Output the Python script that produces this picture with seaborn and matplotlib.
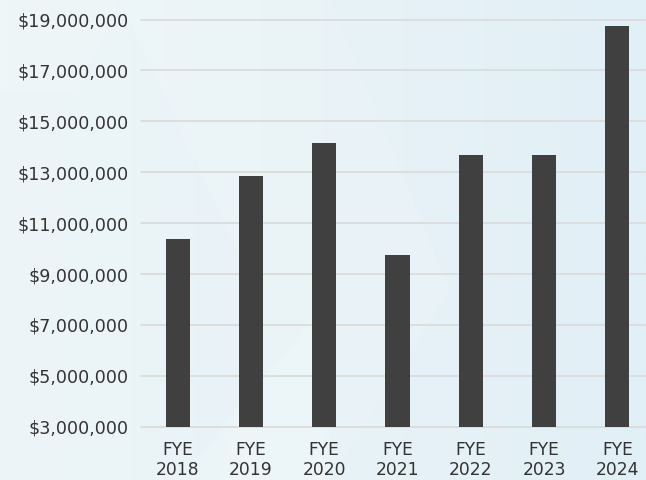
import numpy as np
import pandas as pd
import seaborn as sns
import matplotlib.pyplot as plt
from matplotlib.colors import LinearSegmentedColormap
from matplotlib.patches import Polygon
from matplotlib.ticker import FuncFormatter

years = ["FYE\n2018", "FYE\n2019", "FYE\n2020", "FYE\n2021", "FYE\n2022", "FYE\n2023", "FYE\n2024"]
revenue = [10370000, 12850000, 14160000, 9740000, 13670000, 13670000, 18740000]
y_ticks = [3000000, 5000000, 7000000, 9000000, 11000000, 13000000, 15000000, 17000000, 19000000]

df = pd.DataFrame({"year": years, "revenue": revenue})

sns.set_style("white")
plt.rcParams["font.family"] = ["DejaVu Sans"]

fig = plt.figure(figsize=(6.46, 4.8), dpi=100)

# soft blue background with pale geometric shapes
bg = fig.add_axes([0, 0, 1, 1], zorder=-10)
grad = np.linspace(0, 1, 256).reshape(1, -1)
cmap = LinearSegmentedColormap.from_list("bg", ["#edf5f8", "#e8f3f7", "#e1eff6"])
bg.imshow(grad, cmap=cmap, aspect="auto", extent=[0, 646, 480, 0])
shapes = [
    [(0, 0), (120, 0), (75, 92), (0, 92)],
    [(120, 0), (330, 0), (450, 290), (330, 480), (220, 480), (260, 300)],
    [(180, 480), (330, 300), (330, 480)],
]
for pts in shapes:
    bg.add_patch(Polygon(pts, closed=True, facecolor="white", alpha=0.12, lw=0))
bg.set_xlim(0, 646)
bg.set_ylim(480, 0)
bg.axis("off")

ax = fig.add_axes([141 / 646, 53.3 / 480, 513 / 646, 407.2 / 480])
ax.patch.set_alpha(0)
sns.barplot(data=df, x="year", y="revenue", color="#404040", saturation=1,
            width=0.33, linewidth=0, ax=ax, zorder=3)

ax.set_xlim(-0.5, 6.5)
ax.set_ylim(3000000, 19000000)
ax.set_yticks(y_ticks)
ax.yaxis.set_major_formatter(FuncFormatter(lambda v, p: f"${v:,.0f}"))
ax.grid(axis="y", color="#dadada", linewidth=1.2)
for gl in ax.get_ygridlines():
    gl.set_clip_on(False)
ax.set_axisbelow(True)
sns.despine(ax=ax, left=True, bottom=True)
ax.set_xlabel("")
ax.set_ylabel("")
ax.tick_params(axis="y", length=0, pad=9, labelsize=12.6, labelcolor="#333333")
ax.tick_params(axis="x", length=0, pad=10, labelsize=12.3, labelcolor="#333333")

fig.savefig("out.png", dpi=100)
